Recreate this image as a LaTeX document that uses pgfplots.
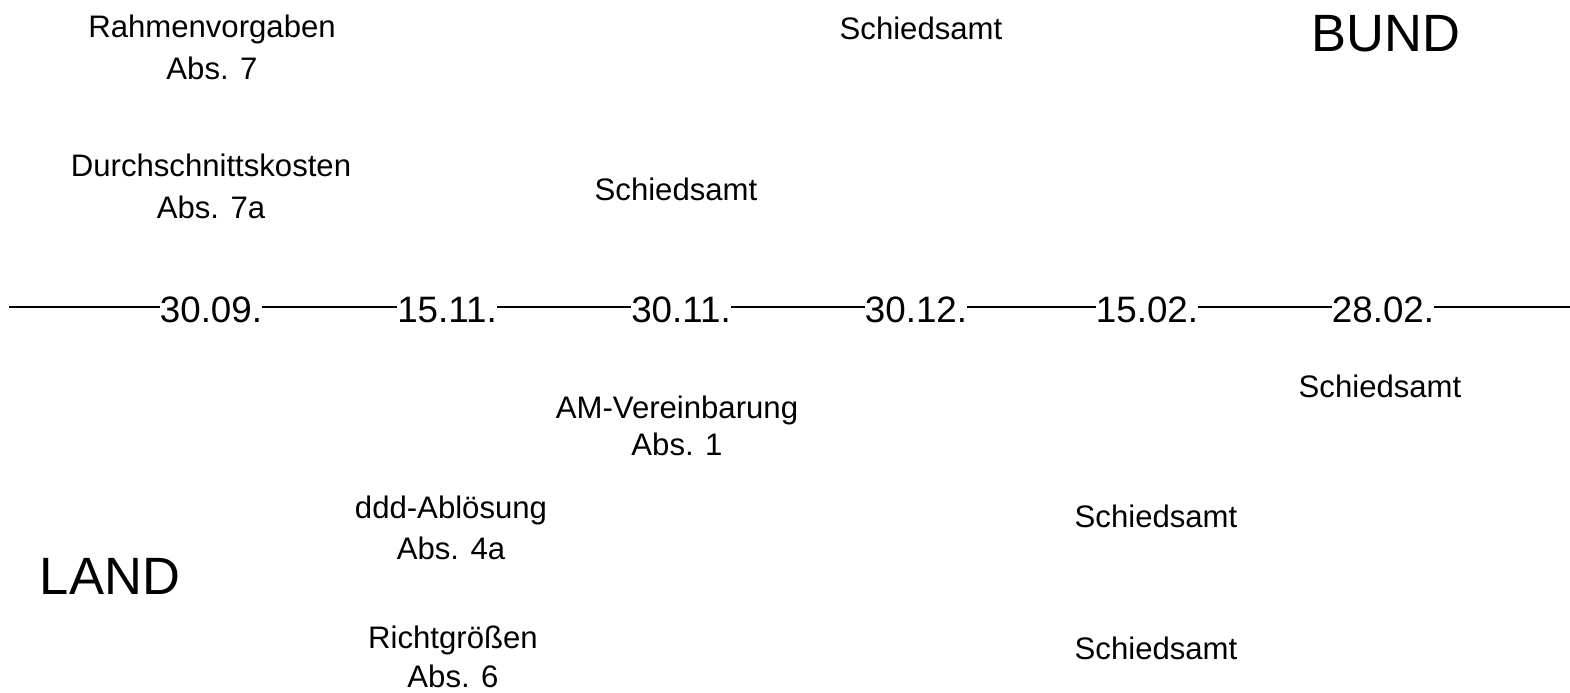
\documentclass[border=0pt]{standalone}
\usepackage{pgfplots}
\pgfplotsset{compat=1.18}
\usepackage{fontspec}
\setmainfont{Liberation Sans}
\newcommand{\labf}{\fontsize{12.45pt}{15pt}\selectfont}
\newcommand{\datf}{\fontsize{14.7pt}{16pt}\selectfont}
\newcommand{\bigf}{\fontsize{21pt}{24pt}\selectfont}
\begin{document}
\begin{tikzpicture}
\begin{axis}[
  x=0.4pt, y=0.4pt,
  xmin=0, xmax=1570, ymin=0, ymax=693,
  y dir=reverse,
  hide axis, clip=false,
]
% timeline
\addplot[black, line width=0.75pt] coordinates {(9,307) (1570,307)};
% dates
\node[anchor=base, fill=white, inner sep=0pt, font=\datf] at (axis cs:211,322) {30.09.};
\node[anchor=base, fill=white, inner sep=0pt, font=\datf] at (axis cs:447,322) {15.11.};
\node[anchor=base, fill=white, inner sep=0pt, font=\datf] at (axis cs:681,322) {30.11.};
\node[anchor=base, fill=white, inner sep=0pt, font=\datf] at (axis cs:916,322) {30.12.};
\node[anchor=base, fill=white, inner sep=0pt, font=\datf] at (axis cs:1147,322) {15.02.};
\node[anchor=base, fill=white, inner sep=0pt, font=\datf] at (axis cs:1383,322) {28.02.};
% upper labels (BUND)
\node[anchor=base, inner sep=0pt, font=\labf] at (axis cs:212,37) {Rahmenvorgaben};
\node[anchor=base, inner sep=0pt, font=\labf] at (axis cs:212,80) {Abs. 7};
\node[anchor=base, inner sep=0pt, font=\labf] at (axis cs:211,176) {Durchschnittskosten};
\node[anchor=base, inner sep=0pt, font=\labf] at (axis cs:211,219) {Abs. 7a};
\node[anchor=base, inner sep=0pt, font=\labf] at (axis cs:921,40) {Schiedsamt};
\node[anchor=base, inner sep=0pt, font=\labf] at (axis cs:676,200) {Schiedsamt};
\node[anchor=base, inner sep=0pt, font=\bigf] at (axis cs:1386,51) {BUND};
% lower labels (LAND)
\node[anchor=base, inner sep=0pt, font=\labf] at (axis cs:1380,397) {Schiedsamt};
\node[anchor=base, inner sep=0pt, font=\labf] at (axis cs:677,418) {AM-Vereinbarung};
\node[anchor=base, inner sep=0pt, font=\labf] at (axis cs:677,455) {Abs. 1};
\node[anchor=base, inner sep=0pt, font=\labf] at (axis cs:451,518) {ddd-Ablösung};
\node[anchor=base, inner sep=0pt, font=\labf] at (axis cs:451,559) {Abs. 4a};
\node[anchor=base, inner sep=0pt, font=\labf] at (axis cs:1156,527) {Schiedsamt};
\node[anchor=base, inner sep=0pt, font=\bigf] at (axis cs:110,594) {LAND};
\node[anchor=base, inner sep=0pt, font=\labf] at (axis cs:453,648) {Richtgrößen};
\node[anchor=base, inner sep=0pt, font=\labf] at (axis cs:453,687) {Abs. 6};
\node[anchor=base, inner sep=0pt, font=\labf] at (axis cs:1156,659) {Schiedsamt};
\end{axis}
\pgfresetboundingbox
\path (0,0) rectangle (628pt,277.2pt);
\end{tikzpicture}
\end{document}
